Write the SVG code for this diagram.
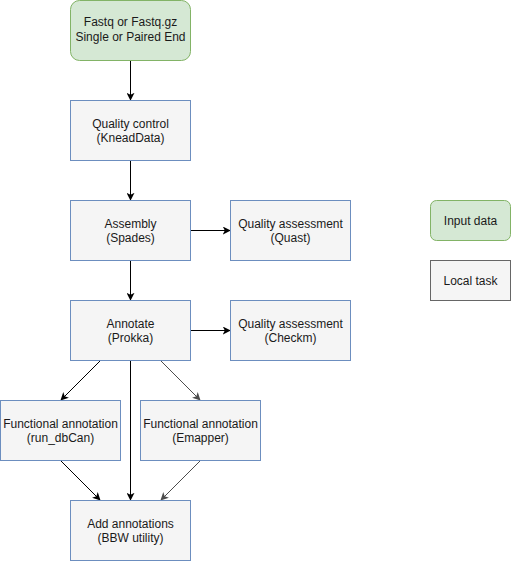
<svg xmlns="http://www.w3.org/2000/svg" width="511" height="561" viewBox="0 0 511 561">
<defs>
<style>
.task{fill:#f5f5f5;stroke:#6c8ebf;stroke-width:1}
.input{fill:#d5e8d4;stroke:#82b366;stroke-width:1}
.legend{fill:#f5f5f5;stroke:#666666;stroke-width:1}
text{font-family:"Liberation Sans",Arial,sans-serif;font-size:12px;fill:#1a1a1a;text-anchor:middle}
.edge{fill:none;stroke:#000;stroke-width:1}
.edge.gray{stroke:#4d4d4d}
</style>
<marker id="arr" viewBox="0 0 10 10" refX="9" refY="5" markerWidth="8" markerHeight="8" markerUnits="userSpaceOnUse" orient="auto">
<path d="M0,0 L10,5 L0,10 L2.5,5 Z" fill="#000"/>
</marker>
<marker id="arrg" viewBox="0 0 10 10" refX="9" refY="5" markerWidth="8" markerHeight="8" markerUnits="userSpaceOnUse" orient="auto">
<path d="M0,0 L10,5 L0,10 L2.5,5 Z" fill="#4d4d4d"/>
</marker>
</defs>
<rect width="511" height="561" fill="#ffffff"/>
<g id="connectors">
<path class="edge" d="M130.5,60.5 L130.5,100" marker-end="url(#arr)"/>
<path class="edge" d="M130.5,160.5 L130.5,200" marker-end="url(#arr)"/>
<path class="edge" d="M190.5,230.5 L230,230.5" marker-end="url(#arr)"/>
<path class="edge" d="M130.5,260.5 L130.5,300" marker-end="url(#arr)"/>
<path class="edge" d="M190.5,330.5 L230,330.5" marker-end="url(#arr)"/>
<path class="edge" d="M100.5,360.5 L61,400" marker-end="url(#arr)"/>
<path class="edge gray" d="M160.5,360.5 L200,400" marker-end="url(#arrg)"/>
<path class="edge" d="M130.5,360.5 L130.5,500" marker-end="url(#arr)"/>
<path class="edge" d="M60.5,460.5 L100,500" marker-end="url(#arr)"/>
<path class="edge gray" d="M200.5,460.5 L161,500" marker-end="url(#arrg)"/>
</g>
<g id="input">
<rect class="input" x="70.5" y="0.5" width="120" height="60" rx="9"/>
<text x="130.5" y="26">Fastq or Fastq.gz</text>
<text x="130.5" y="41">Single or Paired End</text>
</g>
<g id="qc">
<rect class="task" x="70.5" y="100.5" width="120" height="60"/>
<text x="130.5" y="128">Quality control</text>
<text x="130.5" y="142">(KneadData)</text>
</g>
<g id="assembly">
<rect class="task" x="70.5" y="200.5" width="120" height="60"/>
<text x="130.5" y="228">Assembly</text>
<text x="130.5" y="242">(Spades)</text>
</g>
<g id="quast">
<rect class="task" x="230.5" y="200.5" width="120" height="60"/>
<text x="290.5" y="228">Quality assessment</text>
<text x="290.5" y="242">(Quast)</text>
</g>
<g id="annotate">
<rect class="task" x="70.5" y="300.5" width="120" height="60"/>
<text x="130.5" y="328">Annotate</text>
<text x="130.5" y="342">(Prokka)</text>
</g>
<g id="checkm">
<rect class="task" x="230.5" y="300.5" width="120" height="60"/>
<text x="290.5" y="328">Quality assessment</text>
<text x="290.5" y="342">(Checkm)</text>
</g>
<g id="dbcan">
<rect class="task" x="0.5" y="400.5" width="120" height="60"/>
<text x="60.5" y="428">Functional annotation</text>
<text x="60.5" y="442">(run_dbCan)</text>
</g>
<g id="emapper">
<rect class="task" x="140.5" y="400.5" width="120" height="60"/>
<text x="200.5" y="428">Functional annotation</text>
<text x="200.5" y="442">(Emapper)</text>
</g>
<g id="bbw">
<rect class="task" x="70.5" y="500.5" width="120" height="60"/>
<text x="130.5" y="528">Add annotations</text>
<text x="130.5" y="542">(BBW utility)</text>
</g>
<g id="legend-input">
<rect class="input" x="430.5" y="200.5" width="80" height="40" rx="6"/>
<text x="470.5" y="225">Input data</text>
</g>
<g id="legend-local">
<rect class="legend" x="430.5" y="260.5" width="80" height="40"/>
<text x="470.5" y="285">Local task</text>
</g>
</svg>
